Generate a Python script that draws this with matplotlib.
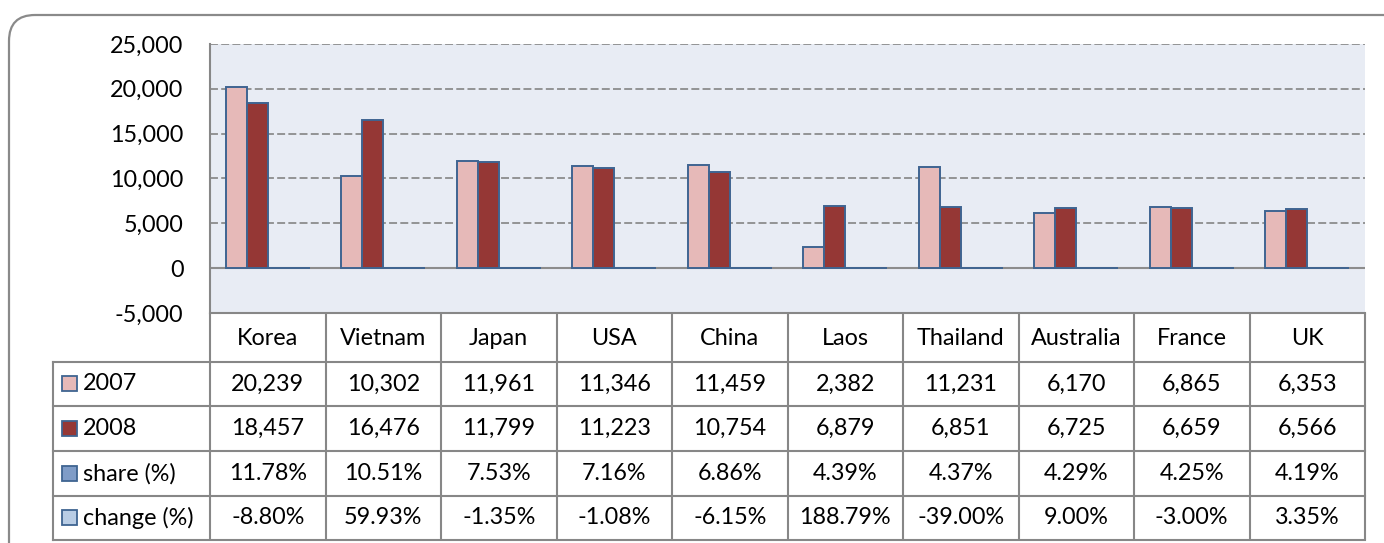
import matplotlib
matplotlib.use("Agg")
import matplotlib.pyplot as plt
import numpy as np
from matplotlib.patches import FancyBboxPatch, Rectangle
from matplotlib.ticker import FuncFormatter
from matplotlib.transforms import blended_transform_factory

plt.rcParams["font.family"] = ["Lato", "DejaVu Sans"]

categories = ["Korea", "Vietnam", "Japan", "USA", "China", "Laos",
              "Thailand", "Australia", "France", "UK"]
v2007 = [20239, 10302, 11961, 11346, 11459, 2382, 11231, 6170, 6865, 6353]
v2008 = [18457, 16476, 11799, 11223, 10754, 6879, 6851, 6725, 6659, 6566]
share = [11.78, 10.51, 7.53, 7.16, 6.86, 4.39, 4.37, 4.29, 4.25, 4.19]
change = [-8.80, 59.93, -1.35, -1.08, -6.15, 188.79, -39.00, 9.00, -3.00, 3.35]

series_names = ["2007", "2008", "share (%)", "change (%)"]
fills = ["#E6B9B8", "#953735", "#7F9CC7", "#B9CDE5"]
EDGE = "#3F6491"
GRID = "#8C8C8C"
LINE = "#878787"
FS = 16.8

W, H = 1384, 543
fig = plt.figure(figsize=(W / 100, H / 100), dpi=100)

# overlay in pixel coordinates for frame and table
ov = fig.add_axes([0, 0, 1, 1], zorder=0)
ov.set_xlim(0, W)
ov.set_ylim(H, 0)
ov.axis("off")

frame = FancyBboxPatch((9, 15), 1400, 560, boxstyle="round,pad=0,rounding_size=26",
                       fc="none", ec="#8A8A8A", lw=1.6)
ov.add_patch(frame)

px_left, px_right, px_top, px_zero_bottom = 210, 1365, 44, 313
ax = fig.add_axes([px_left / W, 1 - px_zero_bottom / H,
                   (px_right - px_left) / W, (px_zero_bottom - px_top) / H], zorder=2)
ax.set_facecolor("#E8ECF4")
ax.set_xlim(-0.5, len(categories) - 0.5)
ax.set_ylim(-5000, 25000)

x = np.arange(len(categories))
bw = 0.182
values = [v2007, v2008, [s / 100 for s in share], [c / 100 for c in change]]
for k, (vals, fc) in enumerate(zip(values, fills)):
    ax.bar(x + (k - 1.5) * bw, vals, width=bw, color=fc, edgecolor=EDGE,
           linewidth=1.4, zorder=3)

ticks = list(range(-5000, 25001, 5000))
for t in ticks:
    if t > 0:
        ax.axhline(t, color=GRID, lw=1.3, ls=(0, (4.4, 1.8)), zorder=1)
ax.axhline(0, color=GRID, lw=1.5, zorder=2.5)

ax.set_yticks(ticks)
ax.yaxis.set_major_formatter(FuncFormatter(lambda v, p: f"{int(v):,}"))
ax.tick_params(axis="y", length=0, pad=19, labelsize=FS)
ax.set_xticks([])
for side in ["top", "right"]:
    ax.spines[side].set_visible(False)
for side in ["left", "bottom"]:
    ax.spines[side].set_color(LINE)
    ax.spines[side].set_linewidth(1.5)

# data table below the plot
tr = blended_transform_factory(ax.transData, ov.transData)
row_edges = [313, 362, 406, 451, 496, 540]
tbl_left = 53
lw_t = 1.5
for i in range(len(categories) + 1):
    ov.plot([i - 0.5, i - 0.5], [row_edges[0], row_edges[-1]], color=LINE,
            lw=lw_t, transform=tr, solid_capstyle="butt")
ov.plot([tbl_left, tbl_left], [row_edges[1], row_edges[-1]], color=LINE, lw=lw_t)
for ry in row_edges[1:]:
    ov.plot([tbl_left, px_right], [ry, ry], color=LINE, lw=lw_t)

for i, name in enumerate(categories):
    ov.text(i, (row_edges[0] + row_edges[1]) / 2 + 1, name, transform=tr,
            ha="center", va="center", fontsize=FS)

rows = [
    [f"{v:,}" for v in v2007],
    [f"{v:,}" for v in v2008],
    [f"{v:.2f}%" for v in share],
    [f"{v:.2f}%" for v in change],
]
for r, (label, fc, cells) in enumerate(zip(series_names, fills, rows)):
    yc = (row_edges[r + 1] + row_edges[r + 2]) / 2
    ov.add_patch(Rectangle((62, yc - 8), 15, 15, fc=fc, ec=EDGE, lw=1.3))
    ov.text(83, yc, label, ha="left", va="center", fontsize=FS)
    for i, s in enumerate(cells):
        ov.text(i, yc, s, transform=tr, ha="center", va="center", fontsize=FS)

fig.savefig("out.png", dpi=100)
